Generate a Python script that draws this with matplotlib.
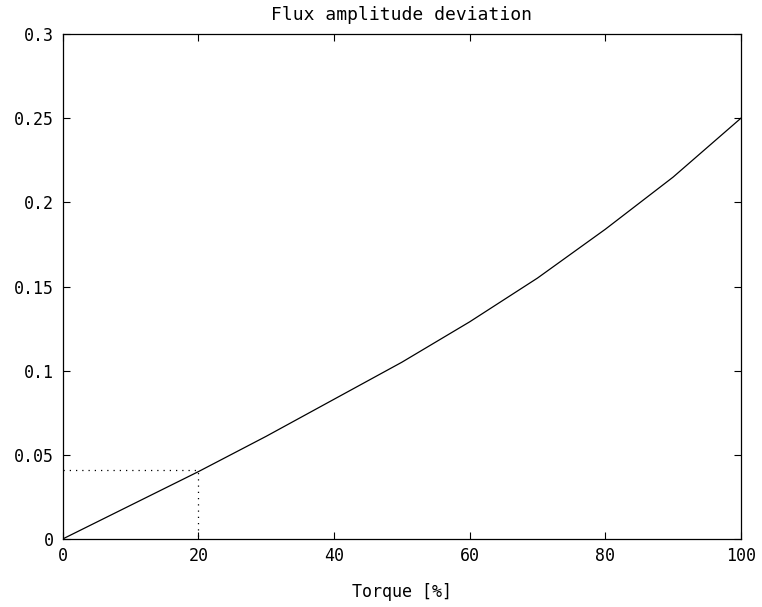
import matplotlib
matplotlib.use("Agg")
import matplotlib.pyplot as plt

torque = [0, 10, 20, 30, 40, 50, 60, 70, 80, 90, 100]
deviation = [0.0, 0.020, 0.040, 0.061, 0.083, 0.105, 0.129, 0.155, 0.184, 0.215, 0.25]
marker_x = 20
marker_y = 0.041
x_ticks = [0, 20, 40, 60, 80, 100]
y_ticks = [0, 0.05, 0.1, 0.15, 0.2, 0.25, 0.3]
y_labels = ["0", "0.05", "0.1", "0.15", "0.2", "0.25", "0.3"]

plt.rcParams['font.family'] = ['DejaVu Sans Mono']
fig = plt.figure(figsize=(7.62, 6.07), dpi=100)
ax = fig.add_axes([0.0822, 0.112, 0.8902, 0.832])
ax.plot(torque, deviation, color='black', lw=0.9)
ax.plot([0, marker_x, marker_x], [marker_y, marker_y, 0], color='black', lw=0.9,
        linestyle=(0, (1, 4)))
ax.set_xlim(0, 100)
ax.set_ylim(0, 0.3)
ax.set_xticks(x_ticks)
ax.set_xticklabels([str(v) for v in x_ticks])
ax.set_yticks(y_ticks)
ax.set_yticklabels(y_labels)
ax.tick_params(direction='in', length=5, width=0.8, top=True, right=True,
               labelsize=12, pad=6)
for s in ax.spines.values():
    s.set_linewidth(0.9)
ax.set_title("Flux amplitude deviation", fontsize=13, pad=10)
ax.set_xlabel("Torque [%]", fontsize=12, labelpad=13)
fig.savefig("out.png", dpi=100)
